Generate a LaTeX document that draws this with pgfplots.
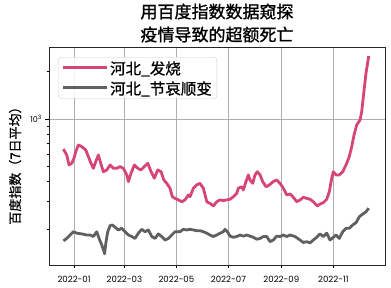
\documentclass[border=0pt]{standalone}
\usepackage{fontspec}
\setmainfont{Noto Sans CJK SC}
\newfontfamily\cjkb{Noto Sans CJK SC}[FakeBold=1.2]
\newfontfamily\cjkm{Noto Sans CJK SC}[FakeBold=0.7]
\newfontfamily\tickfont{Poppins}
\usepackage{pgfplots}
\pgfplotsset{compat=1.18}
\definecolor{pinkc}{RGB}{214,68,120}
\definecolor{grayc}{RGB}{96,96,96}
\begin{document}
\begin{tikzpicture}
\path[use as bounding box] (-49pt,-23pt) rectangle (342pt,265pt);
\begin{axis}[
  at={(0pt,0pt)}, anchor=south west,
  scale only axis, width=336pt, height=218pt,
  xmin=-29.4, xmax=364.6,
  ymode=log, ymin=118.8, ymax=2858,
  xtick={0,59,120,181,243,304},
  xticklabels={2022-01,2022-03,2022-05,2022-07,2022-09,2022-11},
  ytick={1000}, yticklabels={10\textsuperscript{3}},
  minor ytick={200,300,400,500,600,700,800,900,2000},
  xticklabel style={font=\tickfont\fontsize{8.6}{10}\selectfont, yshift=-4.5pt},
  yticklabel style={font=\tickfont\fontsize{8}{9}\selectfont},
  tick pos=left, tick align=outside,
  major tick length=3.5pt, minor tick length=2pt,
  every tick/.style={black, line width=0.6pt},
  axis line style={draw=black!85, line width=0.8pt},
  xmajorgrids, ymajorgrids,
  major grid style={draw=black!32, line width=0.7pt},
  title={用百度指数数据窥探\\[3pt]疫情导致的超额死亡},
  title style={align=center, font=\cjkb\fontsize{17}{20}\selectfont, at={(0.5,1)}, anchor=south, yshift=-5pt},
  ylabel={百度指数（7日平均）},
  ylabel style={font=\cjkm\fontsize{13}{14}\selectfont, at={(axis description cs:-0.101,0.47)}, anchor=center},
  legend style={at={(axis description cs:0.027,0.954)}, anchor=north west,
    draw=black!20, rounded corners=3pt, fill=white, fill opacity=0.85, text opacity=1,
    font=\cjkm\fontsize{15.5}{17}\selectfont, inner xsep=3pt, inner ysep=2pt,
    row sep=3pt, legend cell align=left,
    nodes={inner sep=2pt, text depth=0pt}},
  legend image code/.code={\draw[#1, line width=3pt] (0pt,0pt) -- (35pt,0pt); \path (0pt,0pt) -- (44pt,0pt);},
]
\addplot[pinkc, line width=2.8pt, line join=round] coordinates {
(-12.5,645) (-8.6,591) (-5.9,511) (-2.7,524) (0,566) (2.0,621) (5.0,684) (9.0,668)
(13.7,636) (16.8,577) (19.9,524) (22.6,487) (25.4,536) (28.5,591) (31.3,524) (34.3,463)
(38.3,475) (42.2,511) (46.1,487) (50.1,487) (53.9,499) (57.8,487) (61.8,442) (63.7,401)
(66.8,453) (70.7,511) (74.7,487) (78.5,475) (82.4,499) (86.4,524) (90.3,463) (94.1,421)
(98.1,475) (102.0,463) (105.2,411) (108.7,391) (112.5,364) (115.2,322) (118.4,314)
(122.3,307) (126.3,299) (130.1,307) (134.0,330) (136.0,322) (139.9,364) (143.8,382)
(147.7,391) (151.6,364) (153.6,330) (155.6,299) (159.4,292) (163.3,281) (167.3,299)
(171.2,307) (175.0,304) (179.0,307) (182.9,310) (186.8,322) (190.7,338) (192.6,364)
(196.6,372) (198.5,355) (201.6,401) (204.3,442) (206.3,411) (209.5,391) (212.2,442)
(214.9,463) (218.1,442) (221.2,401) (225.1,372) (229.0,382) (233.6,401) (237.6,411)
(241.5,391) (245.4,364) (249.4,330) (253.2,335) (257.1,319) (261.1,299) (265.0,307)
(268.8,319) (272.8,314) (276.7,310) (280.5,299) (285.2,281) (288.4,289) (292.3,295)
(296.3,310) (299.3,346) (302.1,421) (304.0,463) (307.2,442) (311.0,442) (315.0,463)
(318.9,511) (322.7,577) (325.6,668) (328.3,792) (331.4,916) (335.3,985) (337.3,1112)
(339.2,1384) (342.3,1948) (345.5,2506)
};
\addlegendentry{河北\_发烧}
\addplot[grayc, line width=2.8pt, line join=round] coordinates {
(-12.5,169) (-8.6,175) (-4.7,184) (-0.8,193) (3.2,189) (9.0,187) (14.9,184) (18.8,184)
(22.6,180) (26.6,193) (29.3,175) (32.5,159) (35.2,144) (35.8,140) (37.2,163) (39.5,193)
(42.2,211) (44.9,213) (48.1,206) (51.9,198) (55.9,203) (59.8,193) (63.7,184) (67.6,180)
(71.5,175) (75.4,189) (79.4,200) (83.2,193) (87.1,198) (91.1,180) (95.0,175) (98.8,187)
(102.8,180) (106.7,171) (110.6,175) (114.5,184) (118.4,193) (124.3,193) (128.1,200)
(132.1,198) (136.0,200) (139.9,198) (143.8,196) (147.7,196) (151.6,193) (155.6,189)
(159.4,184) (163.3,180) (167.3,184) (171.2,189) (175.0,193) (177.0,200) (179.7,193)
(182.9,181) (186.8,178) (190.7,180) (194.6,184) (198.5,181) (202.5,184) (206.3,181)
(210.2,178) (214.2,173) (218.1,175) (221.9,180) (225.9,180) (229.8,167) (233.6,171)
(237.6,181) (241.5,180) (245.4,184) (249.4,180) (253.2,184) (259.1,180) (265.0,171)
(268.8,165) (272.8,167) (276.7,164) (280.5,171) (284.5,178) (288.4,187) (292.3,180)
(296.3,189) (300.1,171) (304.0,178) (307.2,184) (311.0,175) (315.0,193) (318.9,203)
(322.7,203) (326.7,213) (330.6,220) (334.5,240) (338.5,250) (342.3,258) (345.5,272)
};
\addlegendentry{河北\_节哀顺变}
\end{axis}
\end{tikzpicture}
\end{document}
